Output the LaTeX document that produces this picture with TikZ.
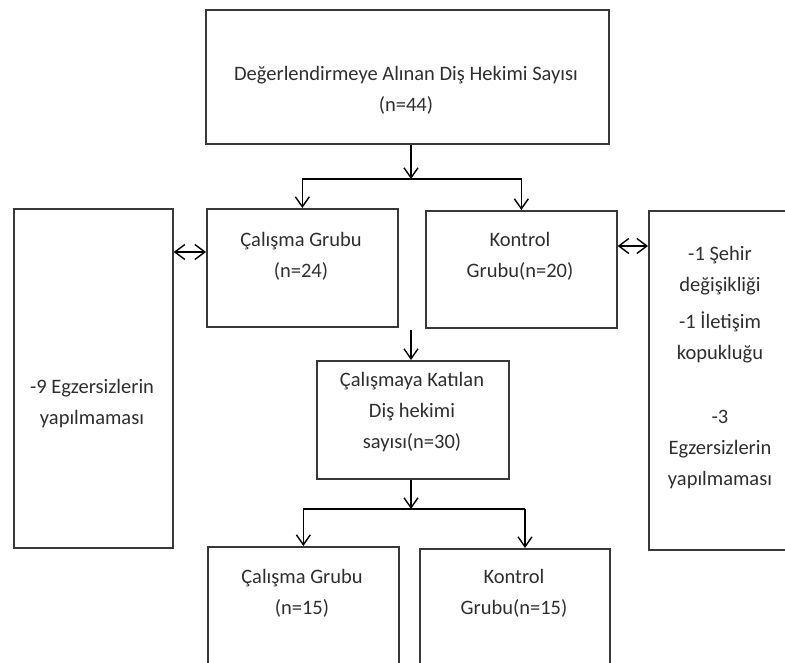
\documentclass[tikz,border=0pt]{standalone}
\usepackage{fontspec}
\setmainfont{Carlito}
\usetikzlibrary{arrows.meta,positioning}

\begin{document}
\begin{tikzpicture}
    [x=1pt, y=-1pt,
    arr/.style={line width=1.4pt, -{Straight Barb[length=10pt,width=14pt,line width=1.4pt]}},
    dbl/.style={line width=1.4pt, {Straight Barb[length=10pt,width=15pt,line width=1.4pt]}-{Straight Barb[length=10pt,width=15pt,line width=1.4pt]}},
    box/.style={draw=black!78, line width=1.7pt, inner sep=0pt, anchor=north west},
    txt/.style={align=center, font=\fontsize{20.5}{31}\selectfont, text=black!82, inner sep=0pt}]
    \useasboundingbox (0,0) rectangle (785,663);
        %% boxes
    \node[box, minimum width=403, minimum height=134] (top) at (205,9) {};
    \node[box, minimum width=191, minimum height=118] (cg1) at (206,208) {};
    \node[box, minimum width=191, minimum height=117] (kg1) at (425,210) {};
    \node[box, minimum width=159, minimum height=339] (sol) at (13,208) {};
    \node[box, minimum width=144, minimum height=339] (sag) at (648,210) {};
    \node[box, minimum width=192, minimum height=118] (mid) at (316,360) {};
    \node[box, minimum width=191, minimum height=140] (cg2) at (207,546) {};
    \node[box, minimum width=190, minimum height=140] (kg2) at (419,548) {};

        %% texts
    \node[txt] (topT) at (406,90) {Değerlendirmeye Alınan Diş Hekimi Sayısı\\(n=44)};
    \node[txt] (cg1T) at (301,256) {Çalışma Grubu\\(n=24)};
    \node[txt] (kg1T) at (520,256) {Kontrol\\Grubu(n=20)};
    \node[txt] (solT) at (92,404) {-9 Egzersizlerin\\yapılmaması};
    \node[txt] (sag1T) at (720,271) {-1 Şehir\\değişikliği};
    \node[txt] (sag2T) at (720,337) {-1 İletişim\\kopukluğu};
    \node[txt] (sag3T) at (720,449) {-3\\Egzersizlerin\\yapılmaması};
    \node[txt] (midT) at (412,412) {Çalışmaya Katılan\\Diş hekimi\\sayısı(n=30)};
    \node[txt] (cg2T) at (302,593) {Çalışma Grubu\\(n=15)};
    \node[txt] (kg2T) at (514,593) {Kontrol\\Grubu(n=15)};

        %% connectors
    \coordinate (j1) at (411,179);
    \coordinate (j0) at (411,330);
    \coordinate (j2) at (411,509);
    \coordinate (j2r) at (525,509);
    \coordinate (dl) at (188,252);
    \coordinate (dr) at (632,246);

    \draw[arr] (top.south -| j1) -- (j1);
    \draw[arr] (j1) -| (cg1);
    \draw[arr] (j1) -| (kg1);
    \draw[arr] (j0) -- (j0 |- mid.north);
    \draw[arr] (mid.south -| j2) -- (j2);
    \draw[arr] (j2) -| (cg2);
    \draw[line width=1.4pt] (j2) -- (j2r);
    \draw[arr] (j2r) -- (j2r |- kg2.north);
    \draw[dbl] (dl -| sol.east) -- (dl -| cg1.west);
    \draw[dbl] (dr -| kg1.east) -- (dr -| sag.west);
\end{tikzpicture}
\end{document}
